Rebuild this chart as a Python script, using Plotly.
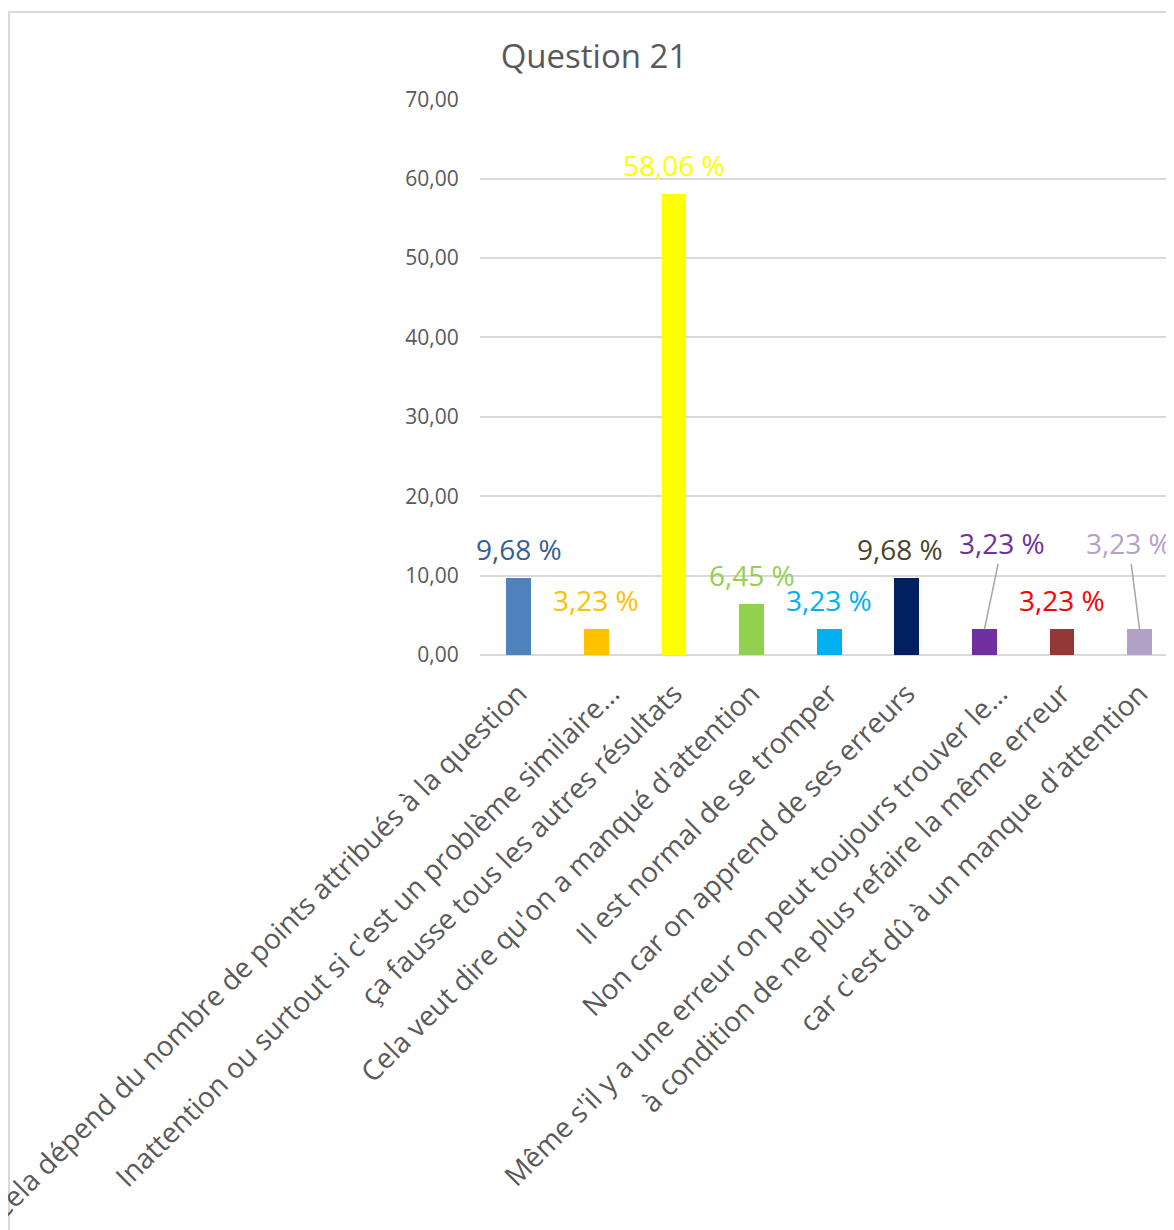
import plotly.graph_objects as go

categories = [
    "Cela dépend du nombre de points attribués à la question",
    "Inattention ou surtout si c'est un problème similaire…",
    "ça fausse tous les autres résultats",
    "Cela veut dire qu'on a manqué d'attention",
    "Il est normal de se tromper",
    "Non car on apprend de ses erreurs",
    "Même s'il y a une erreur on peut toujours trouver le…",
    "à condition de ne plus refaire la même erreur",
    "car c'est dû à un manque d'attention",
]
values = [9.68, 3.23, 58.06, 6.45, 3.23, 9.68, 3.23, 3.23, 3.23]
y_ticks = [0, 10, 20, 30, 40, 50, 60, 70]

bar_colors = ["#4F81BD", "#FFC000", "#FFFF00", "#92D050", "#00B0F0",
              "#002060", "#7030A0", "#953735", "#B3A2C7"]
label_colors = ["#366092", "#FFC000", "#FFFF00", "#92D050", "#00B0F0",
                "#4A452A", "#7030A0", "#FF0000", "#B3A2C7"]

# labels that were dragged by hand in the original (pixel offsets, leader line)
moved = {6: (18, -86), 8: (-11, -86)}
shift_x = {5: -7}
# truncated category labels sit a little further right in the original
tick_nudge = {1: 0.19, 6: 0.19}

FONT = "Open Sans"
GREY = "#595959"

# page body has an 8px margin, so everything is laid out 8px up/left
L, T, PH = 472, 91, 556
W, H = 1174, 1230
PW = W - L
STEP = 77.6  # px per category

fig = go.Figure()
fig.add_trace(go.Bar(
    x=list(range(len(categories))),
    y=values,
    marker=dict(color=bar_colors, line=dict(width=0)),
    width=0.32,
    hoverinfo="skip",
))

for i, v in enumerate(values):
    txt = f"{v:.2f} %".replace(".", ",")
    if i in moved:
        ax, ay = moved[i]
        fig.add_annotation(
            x=i, y=v, text=txt, showarrow=True, arrowhead=0,
            arrowwidth=1.5, arrowcolor="#A6A6A6", ax=ax, ay=ay,
            font=dict(family=FONT, size=28, color=label_colors[i]),
        )
    else:
        fig.add_annotation(
            x=i, y=v, text=txt, showarrow=False, yshift=29,
            xshift=shift_x.get(i, 0), yanchor="middle",
            font=dict(family=FONT, size=28, color=label_colors[i]),
        )

# chart frame
fig.add_shape(type="rect", xref="paper", yref="paper",
              x0=(1 - L) / PW, x1=1.2, y0=-1.5, y1=(T + PH - 4) / PH,
              line=dict(color="#D9D9D9", width=2), layer="below")

fig.update_xaxes(
    tickmode="array",
    tickvals=[i + tick_nudge.get(i, 0) for i in range(len(categories))],
    ticktext=categories,
    tickangle=-45,
    ticklabeloverflow="allow",
    range=[-0.5, -0.5 + PW / STEP],
    showgrid=False,
    showline=False,
    zeroline=False,
    ticks="outside",
    ticklen=10,
    tickcolor="rgba(0,0,0,0)",
    tickfont=dict(family=FONT, size=28, color=GREY),
)
fig.update_yaxes(
    range=[0, 70.03],
    tickvals=y_ticks,
    tickformat=".2f",
    showgrid=True,
    gridcolor="#D9D9D9",
    gridwidth=1.5,
    zeroline=True,
    zerolinecolor="#D9D9D9",
    zerolinewidth=1.5,
    showline=False,
    ticks="outside",
    ticklen=16,
    tickcolor="rgba(0,0,0,0)",
    tickfont=dict(family=FONT, size=21, color=GREY),
)

fig.update_layout(
    width=W,
    height=H,
    margin=dict(l=L, r=0, t=T, b=H - T - PH, autoexpand=False),
    separators=", ",
    plot_bgcolor="white",
    paper_bgcolor="white",
    showlegend=False,
    bargap=0,
    title=dict(
        text="Question 21",
        x=586 / W, xanchor="center", xref="container",
        y=1 - 48 / H, yanchor="middle", yref="container",
        font=dict(family=FONT, size=33, color=GREY),
    ),
)

fig.write_html("out.html")
